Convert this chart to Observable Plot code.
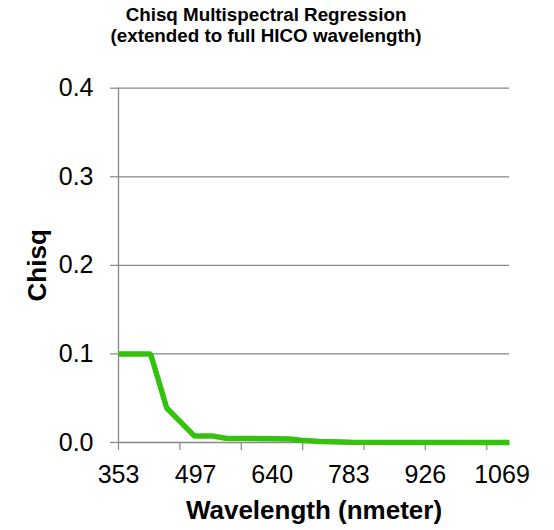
<!DOCTYPE html>
<html><head><meta charset="utf-8">
<script src="https://cdn.jsdelivr.net/npm/d3@7"></script>
<script src="https://cdn.jsdelivr.net/npm/@observablehq/plot@0.6"></script>
<style>
body{margin:0;background:#fff;font-family:"Liberation Sans",Arial,sans-serif;}
#title{width:532px;height:48px;padding-top:5px;box-sizing:border-box;text-align:center;font-weight:bold;font-size:18.8px;line-height:20.5px;color:#000;}
</style></head><body>
<div id="title">Chisq Multispectral Regression<br>(extended to full HICO wavelength)</div>
<div id="chart"></div>
<script>
// Data
const wavelength = [353, 413, 443, 495, 530, 553, 674, 693, 730, 786, 1083];
const chisq = [0.1, 0.1, 0.039, 0.0072, 0.0072, 0.0048, 0.004, 0.0025, 0.0012, 0.0002, 0];
const yTicks = [0, 0.1, 0.2, 0.3, 0.4];
const yGrid = [0.1, 0.2, 0.3, 0.4];
const xTickMarks = [353, 467.6, 582.2, 696.8, 811.4, 926, 1040.6];
const xLabelValues = [353, 497, 640, 783, 926, 1069];
const xLabels = ["353", "497", "640", "783", "926", "1069"];
const xTitle = "Wavelength (nmeter)";
const yTitle = "Chisq";

const data = wavelength.map((w, i) => ({w, c: chisq[i]}));
const gray = "#868686";

const chart = Plot.plot({
  width: 554,
  height: 482,
  marginTop: 39.7,
  marginBottom: 88,
  marginLeft: 118,
  marginRight: 45,
  x: {domain: [353, 1083]},
  y: {domain: [0, 0.4]},
  style: {fontFamily: '"Liberation Sans", Arial, sans-serif', background: "#fff", color: "#000"},
  marks: [
    Plot.gridY(yGrid, {stroke: gray, strokeOpacity: 1, strokeWidth: 1.2}),
    Plot.ruleX([353], {y1: 0, y2: 0.4, stroke: gray, strokeWidth: 1.3}),
    Plot.ruleY([0], {stroke: gray, strokeWidth: 1.3}),
    Plot.axisY({ticks: yTicks, tickSize: 8, tickPadding: 17, stroke: gray, strokeWidth: 1.2, fill: "#000",
      fontSize: 25, tickFormat: d => d.toFixed(1), label: null}),
    Plot.axisX({ticks: xTickMarks, tickSize: 8, stroke: gray, strokeWidth: 1.2, tickFormat: () => "", label: null}),
    Plot.axisX({ticks: xLabelValues, tickSize: 0, tickPadding: 23, fill: "#000", fontSize: 25,
      tickFormat: d => xLabels[xLabelValues.indexOf(d)], label: null}),
    Plot.text([yTitle], {frameAnchor: "left", dx: -81, rotate: -90, text: d => d, fontSize: 26,
      fontWeight: "bold", textAnchor: "middle", lineAnchor: "middle", fill: "#000"}),
    Plot.text([xTitle], {frameAnchor: "bottom", dy: 68, text: d => d, fontSize: 26,
      fontWeight: "bold", textAnchor: "middle", lineAnchor: "middle", fill: "#000"}),
    Plot.line(data, {x: "w", y: "c", stroke: "#34c20e", strokeWidth: 5.5, strokeLinecap: "butt", strokeLinejoin: "miter"})
  ]
});
document.getElementById("chart").appendChild(chart);
</script>
</body></html>
